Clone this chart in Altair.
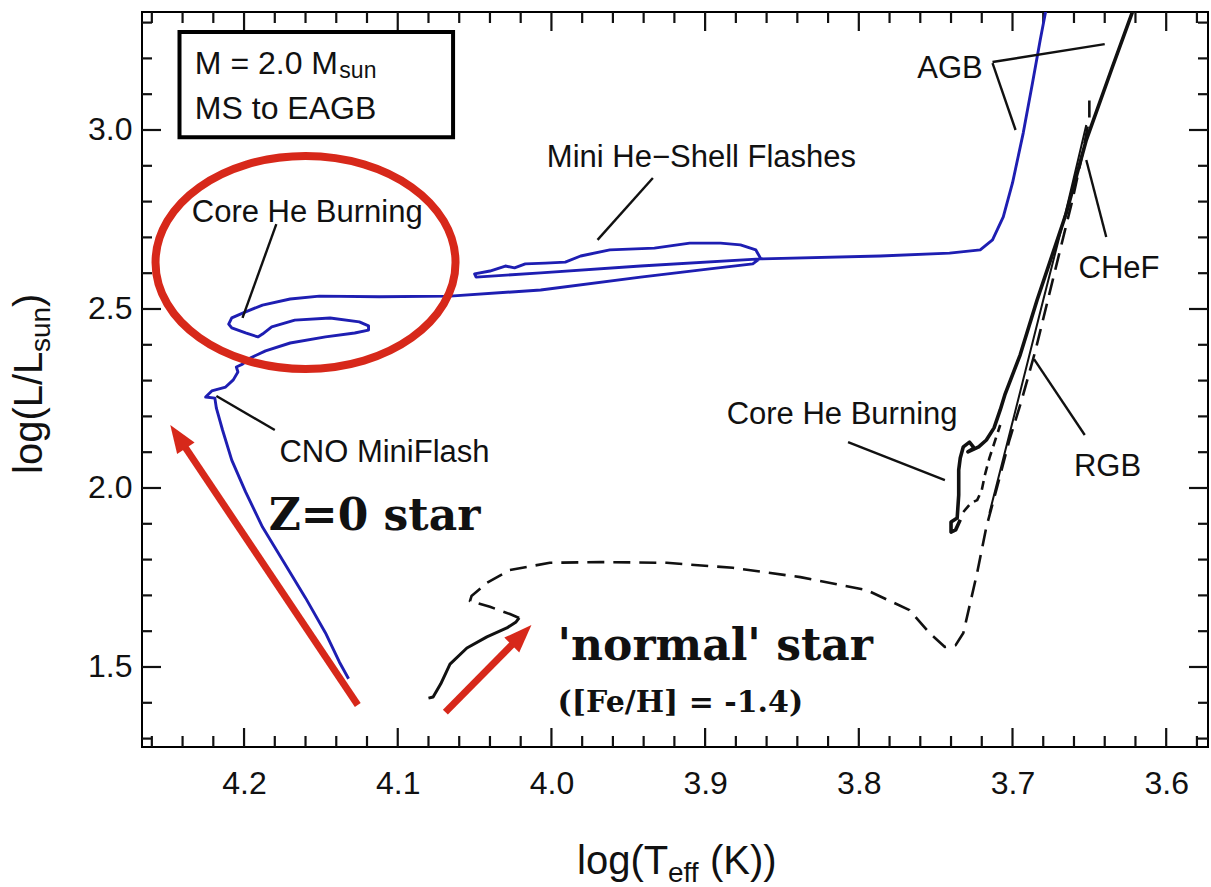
import math
import altair as alt
import pandas as pd

# ---------------- plot frame ----------------
W, H = 1066, 735
T_LO, T_HI = 3.5728, 4.2664          # log Teff, drawn hot (left) to cool (right)
L_LO, L_HI = 1.2765, 3.3296          # log L/Lsun

SANS = "Liberation Sans"
SERIF = "DejaVu Serif"
INK = "#111111"
BLUE = "#1e1eb2"
RED = "#d7281a"

# ---------------- tick positions ----------------
x_major = [4.2, 4.1, 4.0, 3.9, 3.8, 3.7, 3.6]
y_major = [1.5, 2.0, 2.5, 3.0]
x_minor = [round(4.26 - 0.02 * k, 2) for k in range(35)]
x_minor = [v for v in x_minor if min(abs(v - m) for m in x_major) > 1e-6]
y_minor = [round(1.3 + 0.1 * k, 1) for k in range(21)]
y_minor = [v for v in y_minor if min(abs(v - m) for m in y_major) > 1e-6]

# ---------------- Z = 0 track (blue) ----------------
z0_T = [4.132, 4.138, 4.147, 4.160, 4.173, 4.188, 4.199, 4.208, 4.214, 4.218,
        4.219, 4.225, 4.221, 4.212, 4.207, 4.204, 4.205, 4.201, 4.196, 4.186,
        4.170, 4.147, 4.128, 4.119, 4.119, 4.125, 4.144, 4.167, 4.182, 4.188,
        4.191, 4.199, 4.208, 4.210, 4.208, 4.199, 4.188, 4.170, 4.151, 4.112,
        4.066, 4.007, 3.942, 3.897, 3.869, 3.864, 3.867, 3.877, 3.890, 3.910,
        3.933, 3.962, 3.981, 3.991, 4.004, 4.017, 4.024, 4.030, 4.040, 4.050,
        4.049, 4.007, 3.942, 3.864, 3.786, 3.741, 3.721, 3.713, 3.706, 3.700,
        3.693, 3.687, 3.682, 3.677]
z0_L = [1.467, 1.514, 1.595, 1.693, 1.785, 1.891, 1.989, 2.078, 2.162, 2.223,
        2.251, 2.254, 2.271, 2.282, 2.302, 2.324, 2.338, 2.346, 2.363, 2.383,
        2.405, 2.422, 2.433, 2.441, 2.453, 2.464, 2.475, 2.469, 2.450, 2.430,
        2.422, 2.433, 2.447, 2.458, 2.475, 2.492, 2.511, 2.528, 2.536, 2.534,
        2.536, 2.553, 2.589, 2.612, 2.626, 2.642, 2.665, 2.679, 2.684, 2.684,
        2.670, 2.665, 2.648, 2.631, 2.628, 2.626, 2.615, 2.620, 2.606, 2.598,
        2.589, 2.601, 2.620, 2.640, 2.648, 2.656, 2.665, 2.693, 2.757, 2.852,
        2.992, 3.131, 3.251, 3.363]

# ---------------- [Fe/H] = -1.4 track (black) ----------------
ms_T = [4.080, 4.077, 4.072, 4.066, 4.055, 4.042, 4.029, 4.023, 4.021]
ms_L = [1.413, 1.416, 1.453, 1.508, 1.553, 1.584, 1.609, 1.626, 1.637]

rgb_T = [4.021, 4.027, 4.040, 4.053, 4.052, 4.042, 4.027, 4.001, 3.968, 3.925,
         3.882, 3.838, 3.795, 3.767, 3.754, 3.744, 3.737, 3.732, 3.723, 3.717,
         3.710, 3.702, 3.694, 3.685, 3.677, 3.669, 3.661, 3.654, 3.650, 3.650]
rgb_L = [1.637, 1.648, 1.668, 1.684, 1.698, 1.735, 1.771, 1.791, 1.793, 1.791,
         1.777, 1.751, 1.715, 1.659, 1.595, 1.556, 1.561, 1.595, 1.763, 1.891,
         2.003, 2.134, 2.246, 2.385, 2.525, 2.665, 2.804, 2.944, 3.034, 3.084]

flash_T = [3.715, 3.698, 3.680, 3.665, 3.652]
flash_L = [1.930, 2.218, 2.525, 2.777, 3.014]

zig_T = [3.732, 3.727, 3.723, 3.720, 3.718, 3.715, 3.708]
zig_L = [1.933, 1.958, 1.966, 1.994, 2.036, 2.084, 2.176]

hb_T = [3.734, 3.737, 3.740, 3.740, 3.736, 3.735, 3.735, 3.734, 3.732, 3.728,
        3.725, 3.729, 3.722, 3.717, 3.712, 3.708, 3.705, 3.695, 3.684, 3.665,
        3.652, 3.635, 3.621]
hb_L = [1.911, 1.883, 1.877, 1.905, 1.916, 1.980, 2.050, 2.084, 2.115, 2.128,
        2.112, 2.101, 2.115, 2.134, 2.168, 2.218, 2.260, 2.372, 2.525, 2.768,
        2.972, 3.176, 3.341]

# ---------------- annotations ----------------
note_text = ["Core He Burning", "CNO MiniFlash", "Mini He\u2212Shell Flashes",
             "AGB", "CHeF", "Core He Burning", "RGB"]
note_T = [4.234, 4.177, 4.003, 3.762, 3.657, 3.886, 3.660]
note_L = [2.743, 2.073, 2.897, 3.145, 2.587, 2.179, 2.034]

lead_T1 = [4.179, 4.218, 3.934, 3.713, 3.713, 3.652, 3.807, 3.686]
lead_L1 = [2.737, 2.257, 2.866, 3.190, 3.187, 2.916, 2.128, 2.360]
lead_T2 = [4.201, 4.180, 3.970, 3.640, 3.698, 3.639, 3.744, 3.653]
lead_L2 = [2.475, 2.162, 2.693, 3.240, 3.000, 2.701, 2.022, 2.148]

box_text = ["M = 2.0 M", "MS to EAGB"]
box_text_T = [4.232, 4.232]
box_text_L = [3.156, 3.031]
box_sub_text = ["sun"]
box_sub_T = [4.138]
box_sub_L = [3.145]
box_T = [4.242, 4.064]
box_L = [3.274, 2.980]

big_text = ["Z=0 star", "'normal' star"]
big_T = [4.184, 3.996]
big_L = [1.883, 1.520]
small_text = ["([Fe/H] = -1.4)"]
small_T = [3.996]
small_L = [1.374]

ring_T = [4.160]
ring_L = [2.630]

arrow_T0 = [4.126, 4.069]
arrow_L0 = [1.394, 1.374]
arrow_T1 = [4.248, 4.013]
arrow_L1 = [2.176, 1.617]

# ---------------- scales / axes ----------------
xscale = alt.Scale(domain=[T_LO, T_HI], reverse=True, nice=False, zero=False)
yscale = alt.Scale(domain=[L_LO, L_HI], nice=False, zero=False)
xaxis = alt.Axis(values=x_major, format=".1f", ticks=False, tickSize=0,
                 domain=False, grid=False, labelFontSize=32, labelFont=SANS,
                 labelColor=INK, labelPadding=21, labelFlush=False,
                 labelOverlap=False, title="")
yaxis = alt.Axis(values=y_major, format=".1f", ticks=False, tickSize=0,
                 domain=False, grid=False, labelFontSize=32, labelFont=SANS,
                 labelColor=INK, labelPadding=10, labelFlush=False,
                 labelOverlap=False, title="")


def X(f):
    return alt.X(f"{f}:Q", scale=xscale, axis=xaxis, title="")


def Y(f):
    return alt.Y(f"{f}:Q", scale=yscale, axis=yaxis, title="")


layers = []

# inward-pointing ticks on all four sides
def xticks(vals, length):
    m = alt.Chart(pd.DataFrame({"v": vals})).mark_rule(color=INK, strokeWidth=2.2)
    return [m.encode(x=X("v"), y=alt.value(H), y2=alt.value(H - length)),
            m.encode(x=X("v"), y=alt.value(0), y2=alt.value(length))]


def yticks(vals, length):
    m = alt.Chart(pd.DataFrame({"v": vals})).mark_rule(color=INK, strokeWidth=2.2)
    return [m.encode(y=Y("v"), x=alt.value(0), x2=alt.value(length)),
            m.encode(y=Y("v"), x=alt.value(W), x2=alt.value(W - length))]


layers += xticks(x_major, 19) + xticks(x_minor, 11)
layers += yticks(y_major, 19) + yticks(y_minor, 10)


# evolutionary tracks
def track(ts, ls, color, width, dash=None):
    kw = dict(color=color, strokeWidth=width, clip=True, strokeJoin="round")
    if dash:
        kw["strokeDash"] = dash
    df = pd.DataFrame({"T": ts, "L": ls, "i": list(range(len(ts)))})
    return alt.Chart(df).mark_line(**kw).encode(x=X("T"), y=Y("L"), order="i:Q")


layers.append(track(z0_T, z0_L, BLUE, 2.9))
layers.append(track(ms_T, ms_L, INK, 3.0))
layers.append(track(rgb_T, rgb_L, INK, 2.6, [17, 9]))
layers.append(track(flash_T, flash_L, INK, 2.0))
layers.append(track(zig_T, zig_L, INK, 2.6, [9, 6]))
layers.append(track(hb_T, hb_L, INK, 3.6))

# leader lines
leaders = pd.DataFrame({"T1": lead_T1, "L1": lead_L1, "T2": lead_T2, "L2": lead_L2})
layers.append(alt.Chart(leaders).mark_rule(color=INK, strokeWidth=2.4).encode(
    x=X("T1"), y=Y("L1"), x2="T2:Q", y2="L2:Q"))


def words(texts, ts, ls, size, font, weight="normal"):
    df = pd.DataFrame({"txt": texts, "T": ts, "L": ls})
    return alt.Chart(df).mark_text(align="left", baseline="alphabetic",
                                   fontSize=size, font=font, fontWeight=weight,
                                   color=INK).encode(x=X("T"), y=Y("L"), text="txt:N")


layers.append(words(note_text, note_T, note_L, 31, SANS))
layers.append(words(box_text, box_text_T, box_text_L, 32, SANS))
layers.append(words(box_sub_text, box_sub_T, box_sub_L, 23, SANS))
layers.append(words(big_text, big_T, big_L, 44, SERIF, "bold"))
layers.append(words(small_text, small_T, small_L, 30, SERIF, "bold"))

# label box
box = pd.DataFrame({"T1": [box_T[0]], "T2": [box_T[1]], "L1": [box_L[0]], "L2": [box_L[1]]})
layers.append(alt.Chart(box).mark_rect(fill="white", fillOpacity=0, stroke="black",
                                       strokeWidth=4).encode(
    x=X("T1"), x2="T2:Q", y=Y("L1"), y2="L2:Q"))

# red ring around the Z=0 core-helium-burning loop
ELLIPSE = ("M -1 0 C -1 -0.392 -0.552 -0.71 0 -0.71 C 0.552 -0.71 1 -0.392 1 0 "
           "C 1 0.392 0.552 0.71 0 0.71 C -0.552 0.71 -1 0.392 -1 0 Z")
layers.append(alt.Chart(pd.DataFrame({"T": ring_T, "L": ring_L})).mark_point(
    shape=ELLIPSE, size=300 ** 2, filled=False, color=RED, strokeWidth=8,
    opacity=1).encode(x=X("T"), y=Y("L")))

# red arrows: shaft + rotated triangular head
px_T = W / (T_HI - T_LO)
px_L = H / (L_HI - L_LO)
HEAD = 28
rows = []
for t0, l0, t1, l1 in zip(arrow_T0, arrow_L0, arrow_T1, arrow_L1):
    dx = -(t1 - t0) * px_T
    dy = -(l1 - l0) * px_L
    n = math.hypot(dx, dy)
    ux, uy = dx / n, dy / n
    ang = math.degrees(math.atan2(ux, -uy)) % 360
    tc = t1 + (HEAD / 2) * ux / px_T
    lc = l1 + (HEAD / 2) * uy / px_L
    rows.append({"T0": t0, "L0": l0, "Tc": tc, "Lc": lc, "ang": ang})
arrows = pd.DataFrame(rows)
layers.append(alt.Chart(arrows).mark_rule(color=RED, strokeWidth=7).encode(
    x=X("T0"), y=Y("L0"), x2="Tc:Q", y2="Lc:Q"))
layers.append(alt.Chart(arrows).mark_point(
    shape="M 0 -1 L 0.75 1 L -0.75 1 Z", size=HEAD ** 2, filled=True,
    color=RED, opacity=1).encode(x=X("Tc"), y=Y("Lc"),
                                 angle=alt.Angle("ang:Q", scale=None)))


# axis titles with subscripts, placed outside the frame
def title_piece(txt, x, y, size, angle=0):
    return alt.Chart(pd.DataFrame({"s": [txt]})).mark_text(
        align="left", baseline="alphabetic", fontSize=size, font=SANS,
        color=INK, angle=angle).encode(x=alt.value(x), y=alt.value(y), text="s:N")


layers.append(title_piece("log(T", 435, 862, 40))
layers.append(title_piece("eff", 526, 870, 28))
layers.append(title_piece("(K))", 568, 862, 40))
layers.append(title_piece("log(L/L", -100, 462, 40, 270))
layers.append(title_piece("sun", -92, 340, 28, 270))
layers.append(title_piece(")", -100, 295, 40, 270))

chart = alt.layer(*layers).properties(
    width=W, height=H,
    padding={"left": 142, "top": 12, "right": 3, "bottom": 140},
    autosize=alt.AutoSizeParams(type="none"),
).configure_view(stroke="black", strokeWidth=2)

chart.save("out.html", embed_options={"renderer": "svg", "actions": False})
